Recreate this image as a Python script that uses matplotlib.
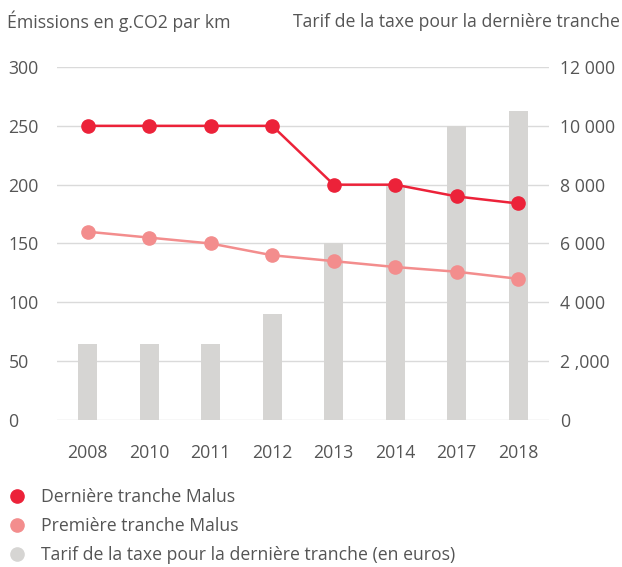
import matplotlib
matplotlib.use("Agg")
import matplotlib.pyplot as plt
from matplotlib.lines import Line2D

# ── Data ──────────────────────────────────────────────────────────────────────
years = ["2008", "2010", "2011", "2012", "2013", "2014", "2017", "2018"]
derniere_tranche = [250, 250, 250, 250, 200, 200, 190, 184]
premiere_tranche = [160, 155, 150, 140, 135, 130, 126, 120]
tarif_euros = [2600, 2600, 2600, 3600, 6000, 8000, 10000, 10500]

left_ticks = [0, 50, 100, 150, 200, 250, 300]
right_ticks = [0, 2000, 4000, 6000, 8000, 10000, 12000]
right_labels = ["0", "2 ,000", "4 000", "6 000", "8 000", "10 000", "12 000"]

RED = "#EC2239"
PINK = "#F38D8D"
GREY_BAR = "#D6D5D3"
GRID = "#DADADA"
TEXT = "#555555"
FS = 12.7

plt.rcParams["font.family"] = ["Open Sans", "DejaVu Sans"]

fig = plt.figure(figsize=(6.22, 5.67), dpi=100)
ax = fig.add_axes([0.0916, 0.2593, 0.7910, 0.6225])   # bars, right axis
ax2 = ax.twinx()                                       # lines, left axis

x = list(range(len(years)))
ax.bar(x, tarif_euros, width=0.31, color=GREY_BAR, zorder=2)
ax.set_ylim(0, 12000)
ax.set_xlim(-0.5, len(years) - 0.5)
ax.set_yticks(right_ticks)
ax.set_yticklabels(right_labels)
ax.yaxis.tick_right()
ax.grid(axis="y", color=GRID, lw=1.0)
ax.set_axisbelow(True)
ax.set_xticks(x)
ax.set_xticklabels(years)
ax.tick_params(axis="x", length=0, pad=17, labelcolor=TEXT, labelsize=FS)
ax.tick_params(axis="y", length=0, pad=8, labelcolor=TEXT, labelsize=FS)

ax2.plot(x, derniere_tranche, color=RED, lw=1.8, marker="o", ms=9.5, zorder=4)
ax2.plot(x, premiere_tranche, color=PINK, lw=1.8, marker="o", ms=9.5, zorder=3)
ax2.set_ylim(0, 300)
ax2.set_yticks(left_ticks)
ax2.yaxis.tick_left()
ax2.tick_params(axis="y", length=0, pad=35, labelcolor=TEXT, labelsize=FS)
for lbl in ax2.get_yticklabels():
    lbl.set_horizontalalignment("left")

for a in (ax, ax2):
    for s in a.spines.values():
        s.set_visible(False)

fig.text(0.011, 0.962, "Émissions en g.CO2 par km", color=TEXT, fontsize=FS, va="center")
fig.text(0.997, 0.962, "Tarif de la taxe pour la dernière tranche", color=TEXT,
         fontsize=FS, va="center", ha="right")

handles = [
    Line2D([], [], ls="none", marker="o", ms=9.5, color=RED),
    Line2D([], [], ls="none", marker="o", ms=9.5, color=PINK),
    Line2D([], [], ls="none", marker="o", ms=9.5, color=GREY_BAR),
]
labels = ["Dernière tranche Malus", "Première tranche Malus",
          "Tarif de la taxe pour la dernière tranche (en euros)"]
leg = fig.legend(handles, labels, loc="upper left", bbox_to_anchor=(0.002, 0.151),
                 frameon=False, fontsize=FS, handlelength=1.0, handletextpad=0.85,
                 labelspacing=0.62, borderaxespad=0)
for t in leg.get_texts():
    t.set_color(TEXT)

fig.savefig("out.png", dpi=100)
